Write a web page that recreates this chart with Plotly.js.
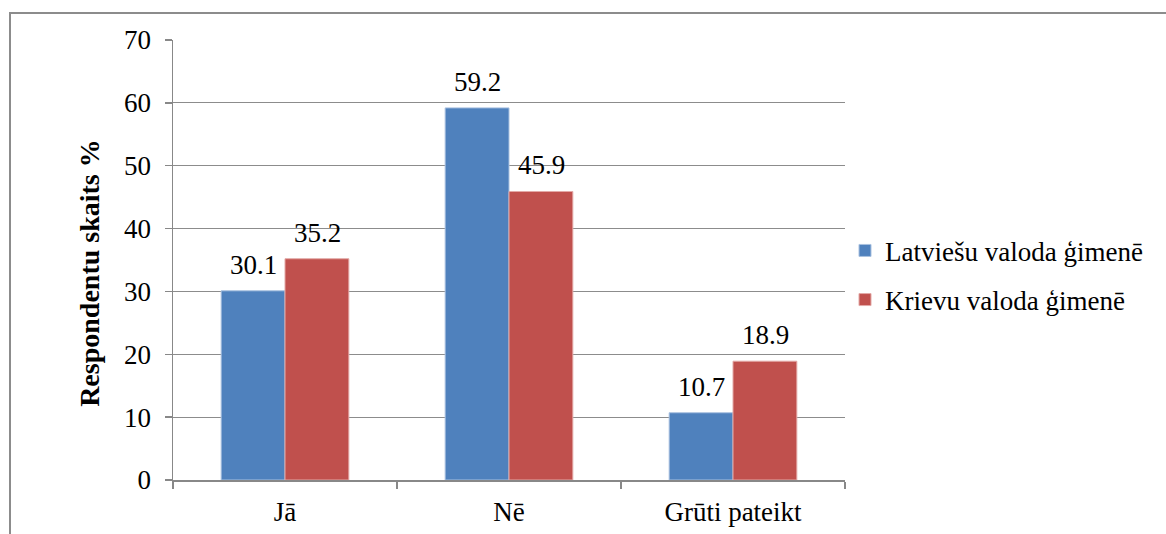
<!DOCTYPE html>
<html><head><meta charset="utf-8">
<script src="https://cdn.plot.ly/plotly-3.0.1.min.js"></script>
<style>
html,body{margin:0;padding:0;background:#fff;overflow:hidden;}
#frame{position:absolute;left:9px;top:12px;width:1200px;height:600px;border:2px solid #8c8c8c;box-sizing:border-box;}
#chart{position:absolute;left:0;top:0;width:1166px;height:534px;}
</style></head>
<body>
<div id="frame"></div>
<div id="chart"></div>
<script>
const categories = ["Jā", "Nē", "Grūti pateikt"];
const seriesNames = ["Latviešu valoda ģimenē", "Krievu valoda ģimenē"];
const latvianValues = [30.1, 59.2, 10.7];
const russianValues = [35.2, 45.9, 18.9];
const yTicks = [0, 10, 20, 30, 40, 50, 60, 70];
const yTitle = "Respondentu skaits %";

const font = "Liberation Serif";
const fs = 27;
const traces = [
  {type:"bar", name:seriesNames[0], x:categories, y:latvianValues,
   marker:{color:"#4F81BD", line:{color:"#A9C1E0", width:1}},
   legendgroup:"a", hoverinfo:"none"},
  {type:"bar", name:seriesNames[1], x:categories, y:russianValues,
   marker:{color:"#C0504D", line:{color:"#E3A9A7", width:1}},
   legendgroup:"b", hoverinfo:"none"}
];
const annotations = [];
[latvianValues, russianValues].forEach((vals, s) => {
  vals.forEach((v, i) => {
    annotations.push({x:categories[i], y:v, xref:"x", yref:"y",
      text:v.toFixed(1), showarrow:false, yanchor:"bottom",
      xshift:(s === 0 ? -32 : 32), yshift:9,
      font:{family:font, size:fs, color:"#000"}});
  });
});
annotations.push({xref:"paper", yref:"paper", x:-0.124, y:0.47, xanchor:"center", yanchor:"middle",
  text:"<b>" + yTitle + "</b>", textangle:-90, showarrow:false,
  font:{family:font, size:28, color:"#000"}});
const layout = {
  width:1166, height:534,
  margin:{l:173, r:321, t:40, b:54},
  paper_bgcolor:"rgba(0,0,0,0)", plot_bgcolor:"rgba(0,0,0,0)",
  font:{family:font, size:fs, color:"#000"},
  barmode:"group", bargap:0.43, bargroupgap:0,
  showlegend:true,
  annotations:annotations,
  legend:{x:1.0, xanchor:"left", y:0.465, yanchor:"middle",
          font:{family:font, size:fs, color:"#000"},
          traceorder:"grouped", tracegroupgap:11, itemwidth:30},
  xaxis:{showgrid:false, showline:true, linecolor:"#888", linewidth:1.5,
         ticks:"outside", tickson:"boundaries", ticklen:7, tickcolor:"#888", tickwidth:1.5,
         ticklabelstandoff:7,
         tickfont:{family:font, size:fs, color:"#000"}, fixedrange:true},
  yaxis:{range:[0,70], tickvals:yTicks, showgrid:true, gridcolor:"#8c8c8c", gridwidth:1.2,
         showline:true, linecolor:"#888", linewidth:1.5, zeroline:false,
         ticks:"outside", ticklen:7, tickcolor:"#888", tickwidth:1.5,
         ticklabelstandoff:8,
         tickfont:{family:font, size:fs, color:"#000"},
         fixedrange:true}
};
Plotly.newPlot("chart", traces, layout, {staticPlot:true, displayModeBar:false});
</script>
</body></html>
